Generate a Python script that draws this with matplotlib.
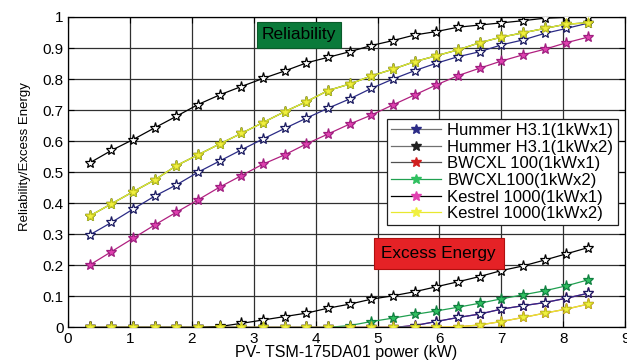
import numpy as np
import matplotlib.pyplot as plt
from matplotlib.lines import Line2D

plt.rcParams['font.family'] = ['Liberation Sans', 'DejaVu Sans']

# PV power (kW): steps of 2 x 175 W panels
pv = [0.35, 0.7, 1.05, 1.4, 1.75, 2.1, 2.45, 2.8, 3.15, 3.5, 3.85, 4.2,
      4.55, 4.9, 5.25, 5.6, 5.95, 6.3, 6.65, 7.0, 7.35, 7.7, 8.05, 8.4]

# reliability
rel_hummer1 = [0.298, 0.338, 0.381, 0.423, 0.459, 0.5, 0.536, 0.572, 0.607, 0.641, 0.674, 0.706,
               0.736, 0.77, 0.8, 0.827, 0.851, 0.872, 0.888, 0.91, 0.926, 0.947, 0.963, 0.98]
rel_hummer2 = [0.53, 0.57, 0.605, 0.643, 0.68, 0.718, 0.749, 0.776, 0.802, 0.826, 0.852, 0.87,
               0.888, 0.908, 0.924, 0.942, 0.953, 0.967, 0.974, 0.981, 0.988, 0.996, 0.999, 1.0]
rel_bwcxl1 = [0.359, 0.398, 0.437, 0.475, 0.521, 0.556, 0.591, 0.625, 0.66, 0.695, 0.727, 0.763,
              0.784, 0.81, 0.832, 0.856, 0.875, 0.894, 0.917, 0.935, 0.949, 0.963, 0.977, 0.981]
rel_bwcxl2 = [0.359, 0.398, 0.437, 0.475, 0.521, 0.556, 0.591, 0.625, 0.66, 0.695, 0.727, 0.763,
              0.784, 0.81, 0.832, 0.856, 0.875, 0.894, 0.917, 0.935, 0.949, 0.963, 0.977, 0.981]
rel_kestrel1 = [0.201, 0.244, 0.287, 0.33, 0.371, 0.411, 0.452, 0.489, 0.526, 0.556, 0.591, 0.623,
                0.655, 0.684, 0.717, 0.749, 0.781, 0.811, 0.835, 0.858, 0.878, 0.896, 0.917, 0.935]
rel_kestrel2 = [0.359, 0.398, 0.437, 0.475, 0.521, 0.556, 0.591, 0.625, 0.66, 0.695, 0.727, 0.763,
                0.784, 0.81, 0.832, 0.856, 0.875, 0.894, 0.917, 0.935, 0.949, 0.963, 0.977, 0.981]

# excess energy
ex_hummer1 = [0, 0, 0, 0, 0, 0, 0, 0, 0, 0, 0, 0, 0, 0, 0,
              0.006, 0.019, 0.032, 0.043, 0.059, 0.07, 0.08, 0.094, 0.11]
ex_hummer2 = [0, 0, 0, 0, 0, 0, 0.003, 0.013, 0.024, 0.035, 0.046, 0.062,
              0.075, 0.091, 0.102, 0.115, 0.131, 0.147, 0.164, 0.183, 0.198, 0.217, 0.237, 0.257]
ex_bwcxl1 = [0, 0, 0, 0, 0, 0, 0, 0, 0, 0, 0, 0, 0, 0, 0, 0, 0,
             0.002, 0.008, 0.019, 0.032, 0.046, 0.059, 0.075]
ex_bwcxl2 = [0, 0, 0, 0, 0, 0, 0, 0, 0, 0, 0, 0,
             0.006, 0.019, 0.03, 0.042, 0.053, 0.065, 0.078, 0.092, 0.105, 0.118, 0.134, 0.153]
ex_kestrel1 = [0, 0, 0, 0, 0, 0, 0, 0, 0, 0, 0, 0, 0, 0, 0,
               0.006, 0.019, 0.032, 0.043, 0.059, 0.07, 0.08, 0.094, 0.11]
ex_kestrel2 = [0, 0, 0, 0, 0, 0, 0, 0, 0, 0, 0, 0, 0, 0, 0, 0, 0,
               0.002, 0.008, 0.019, 0.032, 0.046, 0.059, 0.075]

labels = ['Hummer H3.1(1kWx1)', 'Hummer H3.1(1kWx2)', 'BWCXL 100(1kWx1)',
          'BWCXL100(1kWx2)', 'Kestrel 1000(1kWx1)', 'Kestrel 1000(1kWx2)']

fig = plt.figure(figsize=(6.27, 3.61), dpi=100)
ax = fig.add_axes([0.1085, 0.093, 0.8885, 0.86])

# (line colour, marker face, marker edge)
styles = [
    ('#2b2b86', 'white', '#1a1a60'),   # hummer x1
    ('#000000', 'white', '#000000'),   # hummer x2
    ('#e0702a', '#d02020', '#a01010'), # bwcxl x1
    ('#20a050', '#30c060', '#108040'), # bwcxl x2
    ('#b02080', '#e040b0', '#a02080'), # kestrel x1
    ('#e8e830', '#f0f040', '#c8c820'), # kestrel x2
]
rel = [rel_hummer1, rel_hummer2, rel_bwcxl1, rel_bwcxl2, rel_kestrel1, rel_kestrel2]
ex = [ex_hummer1, ex_hummer2, ex_bwcxl1, ex_bwcxl2, ex_kestrel1, ex_kestrel2]
order = [4, 2, 3, 0, 1, 5]  # draw order (last on top)
for z, i in enumerate(order):
    lc, mf, me = styles[i]
    for ys in (rel[i], ex[i]):
        ax.plot(pv, ys, color=lc, lw=0.9, marker='*', ms=8, mfc=mf, mec=me,
                mew=0.9, zorder=3 + z)

ax.set_xlim(0, 9)
ax.set_ylim(0, 1)
ax.set_xticks(range(10))
ax.set_yticks(np.arange(0, 1.01, 0.1))
ax.set_yticklabels(['0', '0.1', '0.2', '0.3', '0.4', '0.5', '0.6', '0.7', '0.8', '0.9', '1'])
ax.tick_params(direction='in', top=True, right=True, labelsize=11, length=4, pad=3)
ax.grid(True, color='#303030', lw=0.9)
for s in ax.spines.values():
    s.set_linewidth(0.9)

ax.set_xlabel('PV- TSM-175DA01 power (kW)', fontsize=11.5)
ax.xaxis.set_label_coords(0.5, -0.055)
ax.set_ylabel('Reliability/Excess Energy', fontsize=9.5,
              family=['Liberation Sans Narrow', 'Liberation Sans'])
ax.yaxis.set_label_coords(-0.066, 0.55)

ax.text(3.73, 0.942, 'Reliability', fontsize=12.5, ha='center', va='center', zorder=20,
        bbox=dict(boxstyle='square,pad=0.3', fc='#0a7a3a', ec='#0a5a2a', lw=0.8))
ax.text(5.99, 0.238, 'Excess Energy', fontsize=12.3, ha='center', va='center', zorder=20,
        bbox=dict(boxstyle='square,pad=0.45', fc='#e52226', ec='#b01010', lw=0.8))

leg_lines = ['#707070', '#707070', '#505050', '#20a050', '#000000', '#e8e830']
leg_mark = ['#2b2b86', '#202020', '#d02020', '#30c060', '#e040b0', '#f0f040']
handles = [Line2D([], [], color=leg_lines[k], lw=0.9, marker='*', ms=7,
                  mfc=leg_mark[k], mec=leg_mark[k]) for k in range(6)]
leg = ax.legend(handles, labels, loc='upper left', bbox_to_anchor=(0.557, 0.699),
                fontsize=12, handlelength=3.0, handletextpad=0.4, labelspacing=0.1,
                borderpad=0.25, borderaxespad=0.5, fancybox=False, framealpha=1,
                edgecolor='#202020')
leg.set_zorder(30)
leg.get_frame().set_linewidth(0.9)

fig.savefig('out.png', dpi=100)
